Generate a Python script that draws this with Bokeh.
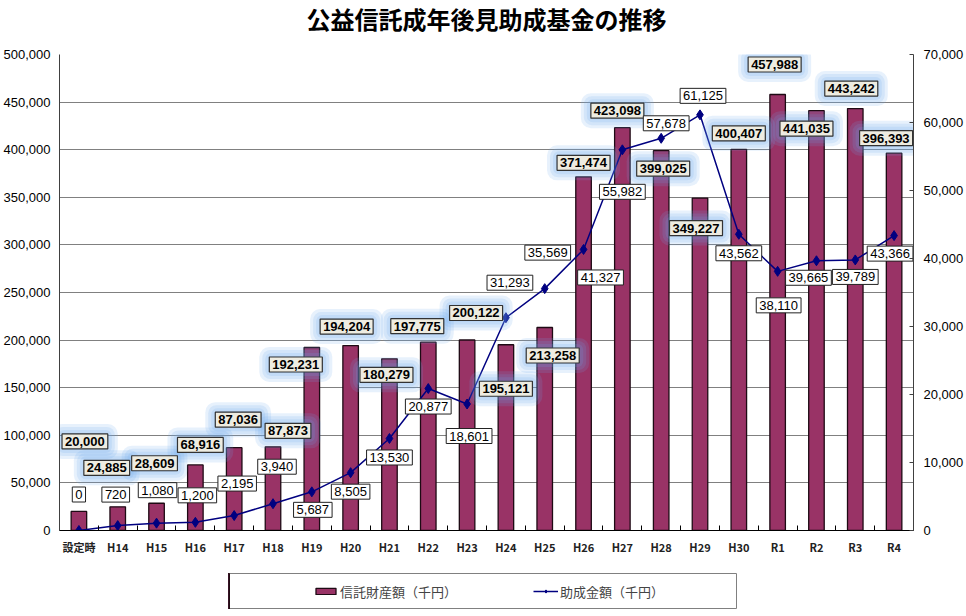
from bokeh.plotting import figure
from bokeh.layouts import column, row
from bokeh.models import (Range1d, LinearAxis, FixedTicker, NumeralTickFormatter,
                          ColumnDataSource, Legend, LegendItem, Spacer)
from bokeh.core.properties import value
from bokeh.embed import file_html
from bokeh.resources import INLINE

# ---------------- data ----------------
title_text = "公益信託成年後見助成基金の推移"
categories = ["設定時", "H14", "H15", "H16", "H17", "H18", "H19", "H20", "H21", "H22",
              "H23", "H24", "H25", "H26", "H27", "H28", "H29", "H30", "R1", "R2", "R3", "R4"]
trust_assets = [20000, 24885, 28609, 68916, 87036, 87873, 192231, 194204, 180279, 197775,
                200122, 195121, 213258, 371474, 423098, 399025, 349227, 400407, 457988,
                441035, 443242, 396393]
grants = [0, 720, 1080, 1200, 2195, 3940, 5687, 8505, 13530, 20877, 18601, 31293, 35569,
          41327, 55982, 57678, 61125, 43562, 38110, 39665, 39789, 43366]
series_names = ["信託財産額（千円）", "助成金額（千円）"]
left_ticks = list(range(0, 500001, 50000))
right_ticks = list(range(0, 70001, 10000))

# label placement offsets in pixels (screen: +x right, +y down)
bar_label_dx = [6, -11, -2, 5, 4, 15, -16, -4, -3, -11, 9, 0, 8, 0, -5, 2, -4, 0, -3, -10, -4, -8]
bar_label_dy = [-70, -39, -40, -20, -28, -16, 17, -19, 16, -16, -27, 44, 28, -14, -17, 18, 30, -16, -30, 18, -20, -15]
line_label_dx = [0, -2, 1, 2, 3, 4, 1, 0, 0, 0, 2, 4, 3, 17, 0, 5, 3, 0, 1, -8, 0, -4]
line_label_dy = [-36, -31, -33, -27, -32, -37, 18, 19, 19, 18, 32, -35, -36, 28, 42, -15, -19, 19, 34, 17, 17, 18]

xs = list(range(len(categories)))

src = ColumnDataSource(dict(
    x=xs, assets=trust_assets, grants=grants,
    assets_txt=[f"{v:,}" for v in trust_assets],
    grants_txt=[f"{v:,}" for v in grants],
    bdx=bar_label_dx, bdy=bar_label_dy, ldx=line_label_dx, ldy=line_label_dy,
))

NUM_FONT = "Liberation Sans"
JP_FONT = "Noto Sans CJK JP"
BAR_FILL = "#993366"
BAR_LINE = "#1e0a14"
LINE_COLOR = "#000080"

# ---------------- title strip ----------------
tf = figure(width=966, height=40, output_backend="svg", toolbar_location=None,
            x_axis_type=None, y_axis_type=None, min_border=0,
            x_range=Range1d(0, 1), y_range=Range1d(0, 1), title=title_text)
tf.outline_line_color = None
tf.background_fill_color = "white"
tf.border_fill_color = "white"
tf.title.align = "center"
tf.title.vertical_align = "top"
tf.title.text_font = JP_FONT
tf.title.text_font_size = "24px"
tf.title.text_font_style = "bold"
tf.title.text_color = "black"
tf.title.standoff = 0

# ---------------- main chart ----------------
p = figure(width=966, height=533, x_range=Range1d(-0.5, len(categories) - 0.5),
           y_range=Range1d(0, 500000), output_backend="svg", toolbar_location=None,
           min_border_left=57, min_border_right=50, min_border_top=14, min_border_bottom=43)
p.outline_line_color = None
p.background_fill_color = "white"
p.border_fill_color = "white"

p.extra_y_ranges = {"grant": Range1d(0, 70000)}

# left axis
p.yaxis.ticker = FixedTicker(ticks=left_ticks)
p.yaxis.formatter = NumeralTickFormatter(format="0,0")
p.yaxis.major_label_text_font = NUM_FONT
p.yaxis.major_label_text_font_size = "13px"
p.yaxis.major_label_text_color = "black"
p.yaxis.major_tick_out = 0
p.yaxis.major_tick_in = 0
p.yaxis.minor_tick_out = 0
p.yaxis.minor_tick_in = 0
p.yaxis.major_label_standoff = 9
p.yaxis.axis_line_color = "#404040"

# right axis
raxis = LinearAxis(y_range_name="grant", ticker=FixedTicker(ticks=right_ticks),
                   formatter=NumeralTickFormatter(format="0,0"))
raxis.major_label_text_font = NUM_FONT
raxis.major_label_text_font_size = "13px"
raxis.major_label_text_color = "black"
raxis.major_tick_out = 0
raxis.major_tick_in = 4
raxis.minor_tick_out = 0
raxis.minor_tick_in = 0
raxis.major_label_standoff = 10
raxis.axis_line_color = "#404040"
raxis.major_tick_line_color = "#404040"
p.add_layout(raxis, "right")

# x axis
p.xaxis.ticker = FixedTicker(ticks=xs, minor_ticks=[i - 0.5 for i in range(len(categories) + 1)])
p.xaxis.major_label_overrides = {i: c for i, c in enumerate(categories)}
p.xaxis.major_label_text_font = JP_FONT
p.xaxis.major_label_text_font_size = "11px"
p.xaxis.major_label_text_font_style = "bold"
p.xaxis.major_label_text_color = "#222222"
p.xaxis.major_tick_out = 0
p.xaxis.major_tick_in = 0
p.xaxis.minor_tick_in = 5
p.xaxis.minor_tick_out = 0
p.xaxis.major_label_standoff = 8
p.xaxis.axis_line_color = "black"

p.xgrid.visible = False
p.ygrid.ticker = FixedTicker(ticks=left_ticks)
p.ygrid.grid_line_color = "#808080"
p.ygrid.grid_line_width = 1

# bars and line
bars = p.vbar(x="x", top="assets", width=0.4, source=src, fill_color=BAR_FILL,
              line_color=BAR_LINE, line_width=1.3)
ln = p.line(x="x", y="grants", source=src, y_range_name="grant", line_color=LINE_COLOR,
            line_width=1.5)
pts = p.scatter(x="x", y="grants", source=src, y_range_name="grant", marker="diamond",
                size=10, fill_color=LINE_COLOR, line_color=LINE_COLOR)

# glow behind bar-value labels
for pad, rad in [(13, 10), (10, 8), (7, 6), (4, 4)]:
    p.text(x="x", y="assets", text="assets_txt", source=src, x_offset="bdx", y_offset="bdy",
           text_align="center", text_baseline="middle", text_font=value(NUM_FONT),
           text_font_size="13px", text_font_style="bold", text_alpha=0,
           background_fill_color="#6aa6ee", background_fill_alpha=0.16,
           padding=pad, border_radius=rad)

# bar-value labels
p.text(x="x", y="assets", text="assets_txt", source=src, x_offset="bdx", y_offset="bdy",
       text_align="center", text_baseline="middle", text_font=value(NUM_FONT),
       text_font_size="13px", text_font_style="bold", text_color="black",
       background_fill_color="#EEECE1", border_line_color="#333333", border_line_width=1.2,
       padding=3)

# line-value labels
p.text(x="x", y="grants", text="grants_txt", source=src, y_range_name="grant",
       x_offset="ldx", y_offset="ldy",
       text_align="center", text_baseline="middle", text_font=value(NUM_FONT),
       text_font_size="13px", text_color="black",
       background_fill_color="white", border_line_color="#222222", border_line_width=1,
       padding=3)

# ---------------- legend (boxed strip below the chart) ----------------
# the legend strip reuses the series renderers' styles; its ranges keep the data out of view
lf = figure(width=509, height=36, output_backend="svg", toolbar_location=None,
            x_axis_type=None, y_axis_type=None, min_border=0,
            x_range=Range1d(1000, 1001), y_range=Range1d(0, 1))
lf.outline_line_color = "#808080"
lf.outline_line_width = 1
lf.background_fill_color = "white"
lf.border_fill_color = "white"
lg_bar = lf.vbar(x="x", top="assets", width=0.4, source=src, fill_color=BAR_FILL,
                 line_color=BAR_LINE, line_width=1.3)
lg_line = lf.line(x="x", y="grants", source=src, line_color=LINE_COLOR, line_width=1.5)
lg_pts = lf.scatter(x="x", y="grants", source=src, marker="diamond", size=8,
                    fill_color=LINE_COLOR, line_color=LINE_COLOR)

legend = Legend(items=[LegendItem(label=series_names[0], renderers=[lg_bar]),
                       LegendItem(label=series_names[1], renderers=[lg_line, lg_pts])],
                location=(85, 8), orientation="horizontal", padding=0, margin=0,
                spacing=76, label_width=110, label_height=20, glyph_width=25, glyph_height=8,
                label_standoff=2, border_line_alpha=0, background_fill_alpha=0,
                label_text_font=JP_FONT, label_text_font_size="13px")
lf.add_layout(legend, "center")

layout = column(tf, p, row(Spacer(width=228, height=36), lf))

open("out.html", "w").write(file_html(layout, INLINE))
